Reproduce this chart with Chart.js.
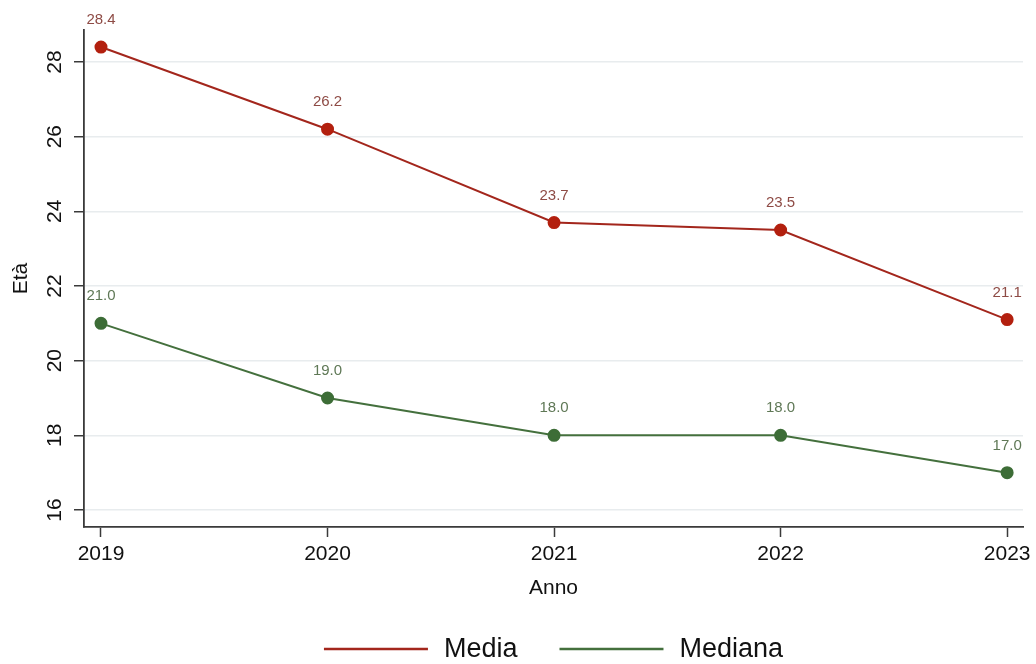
<!DOCTYPE html>
<html>
<head>
<meta charset="utf-8">
<script src="https://cdn.jsdelivr.net/npm/chart.js@4"></script>
<style>
  html, body { margin: 0; padding: 0; background: #ffffff; }
  #wrap { width: 1036px; height: 664px; position: relative; }
</style>
</head>
<body>
<div id="wrap"><canvas id="c"></canvas></div>
<script>
// ---- data ----
const years = [2019, 2020, 2021, 2022, 2023];
const xTickLabels = ['2019', '2020', '2021', '2022', '2023'];
const mediaValues = [28.4, 26.2, 23.7, 23.5, 21.1];
const medianaValues = [21.0, 19.0, 18.0, 18.0, 17.0];
const yTicks = [16, 18, 20, 22, 24, 26, 28];
const seriesNames = ['Media', 'Mediana'];
const xTitle = 'Anno';
const yTitle = 'Età';

// ---- styles ----
const FONT = "'Liberation Sans', Arial, sans-serif";
const RED_LINE = '#a3261c';
const RED_POINT = '#b3200f';
const RED_LABEL = '#8e4b45';
const GREEN_LINE = '#44703d';
const GREEN_POINT = '#3d6d37';
const GREEN_LABEL = '#5f7856';
const AXIS = '#3a3a3a';
const GRID = '#e8ecee';

const toPoints = (vals) => years.map((yr, i) => ({ x: yr, y: vals[i] }));

const valueLabels = {
  id: 'valueLabels',
  afterDatasetsDraw(chart) {
    const ctx = chart.ctx;
    ctx.save();
    ctx.font = '15px ' + FONT;
    ctx.textAlign = 'center';
    ctx.textBaseline = 'middle';
    chart.data.datasets.forEach((ds, di) => {
      const meta = chart.getDatasetMeta(di);
      ctx.fillStyle = ds.labelColor;
      meta.data.forEach((pt, i) => {
        ctx.fillText(ds.data[i].y.toFixed(1), pt.x, pt.y - 27);
      });
    });
    ctx.restore();
  }
};

const bottomLegend = {
  id: 'bottomLegend',
  afterDraw(chart) {
    const ctx = chart.ctx;
    const area = chart.chartArea;
    ctx.save();
    ctx.font = '27px ' + FONT;
    ctx.textBaseline = 'middle';
    ctx.textAlign = 'left';
    const lineLen = 104, gapText = 16, gapItem = 42;
    const items = chart.data.datasets.map(ds => ({
      label: ds.label, color: ds.borderColor, w: ctx.measureText(ds.label).width
    }));
    let total = 0;
    items.forEach((it, i) => { total += lineLen + gapText + it.w + (i < items.length - 1 ? gapItem : 0); });
    let x = (area.left + area.right) / 2 - total / 2;
    const y = 649;
    items.forEach((it) => {
      ctx.strokeStyle = it.color;
      ctx.lineWidth = 2.5;
      ctx.beginPath();
      ctx.moveTo(x, y);
      ctx.lineTo(x + lineLen, y);
      ctx.stroke();
      ctx.fillStyle = '#111111';
      ctx.fillText(it.label, x + lineLen + gapText, y + 1);
      x += lineLen + gapText + it.w + gapItem;
    });
    ctx.restore();
  }
};

new Chart(document.getElementById('c'), {
  type: 'line',
  data: {
    datasets: [
      {
        label: seriesNames[0],
        data: toPoints(mediaValues),
        borderColor: RED_LINE,
        backgroundColor: RED_POINT,
        pointBackgroundColor: RED_POINT,
        pointBorderColor: RED_POINT,
        pointRadius: 5.5,
        borderWidth: 2,
        tension: 0,
        labelColor: RED_LABEL
      },
      {
        label: seriesNames[1],
        data: toPoints(medianaValues),
        borderColor: GREEN_LINE,
        backgroundColor: GREEN_POINT,
        pointBackgroundColor: GREEN_POINT,
        pointBorderColor: GREEN_POINT,
        pointRadius: 5.5,
        borderWidth: 2,
        tension: 0,
        labelColor: GREEN_LABEL
      }
    ]
  },
  options: {
    responsive: true,
    maintainAspectRatio: false,
    animation: false,
    layout: { padding: { left: 0, right: 13, top: 30, bottom: 63 } },
    plugins: {
      legend: { display: false },
      tooltip: { enabled: false },
      title: { display: false }
    },
    scales: {
      x: {
        type: 'linear',
        min: 2018.925,
        max: 2023.07,
        afterBuildTicks: (s) => { s.ticks = years.map(v => ({ value: v })); },
        afterFit: (s) => { s.height = 74; },
        ticks: {
          autoSkip: false,
          maxRotation: 0,
          minRotation: 0,
          padding: 5,
          color: '#111111',
          font: { family: FONT, size: 21 },
          callback: (v) => xTickLabels[years.indexOf(v)]
        },
        grid: {
          drawOnChartArea: false,
          drawTicks: true,
          tickLength: 10,
          tickColor: AXIS,
          tickWidth: 1.5
        },
        border: { display: true, color: AXIS, width: 1.8 },
        title: {
          display: true,
          text: xTitle,
          color: '#111111',
          font: { family: FONT, size: 21 },
          padding: { top: 0, bottom: 0 }
        }
      },
      y: {
        type: 'linear',
        min: 15.545,
        max: 28.857,
        afterBuildTicks: (s) => { s.ticks = yTicks.map(v => ({ value: v })); },
        afterFit: (s) => { s.width = 84; },
        ticks: {
          autoSkip: false,
          minRotation: 90,
          maxRotation: 90,
          crossAlign: 'center',
          padding: 7,
          color: '#111111',
          font: { family: FONT, size: 21 },
          callback: (v) => String(v)
        },
        grid: {
          color: GRID,
          lineWidth: 1.5,
          drawTicks: true,
          tickLength: 10,
          tickColor: AXIS,
          tickWidth: 1.5
        },
        border: { display: true, color: AXIS, width: 1.8 },
        title: {
          display: true,
          text: yTitle,
          color: '#111111',
          font: { family: FONT, size: 21 },
          padding: { top: 9, bottom: 0 }
        }
      }
    }
  },
  plugins: [valueLabels, bottomLegend]
});
</script>
</body>
</html>
